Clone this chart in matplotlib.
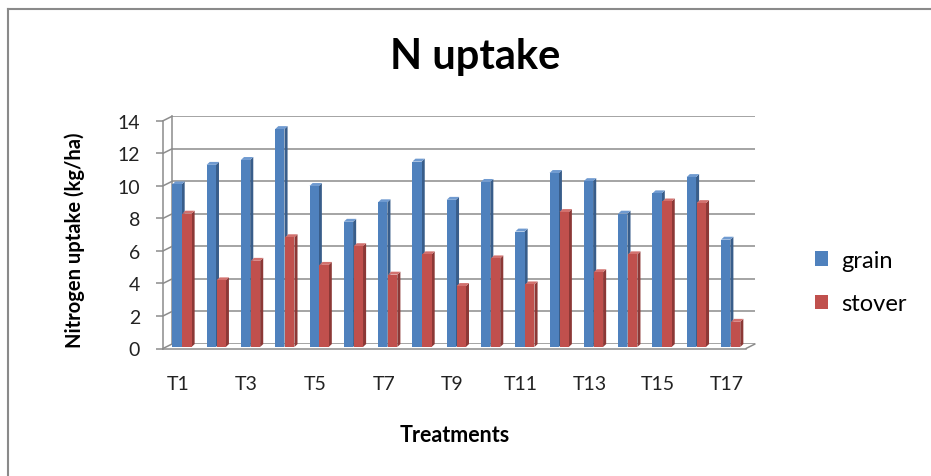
import numpy as np
import matplotlib
matplotlib.use("Agg")
import matplotlib.pyplot as plt
from matplotlib.lines import Line2D
from matplotlib.transforms import ScaledTranslation

plt.rcParams['font.family'] = ['Lato', 'DejaVu Sans']

# N uptake per treatment (kg/ha)
treatments = ['T%d' % i for i in range(1, 18)]
grain = [10.0, 11.2, 11.5, 13.4, 9.9, 7.7, 8.9, 11.4, 9.05, 10.15, 7.1, 10.7, 10.2, 8.2, 9.45, 10.45, 6.6]
stover = [8.2, 4.1, 5.3, 6.75, 5.05, 6.2, 4.45, 5.7, 3.75, 5.45, 3.85, 8.3, 4.6, 5.7, 8.95, 8.85, 1.55]
yticks = [0, 2, 4, 6, 8, 10, 12, 14]

c_grain, c_grain_side, c_grain_top = '#4F81BD', '#385D8A', '#6F9AD0'
c_stov, c_stov_side, c_stov_top = '#C0504D', '#8C3836', '#D2716E'
grid_c = '#8C8C8C'

W, H = 931, 477
fig = plt.figure(figsize=(W / 100, H / 100), dpi=100)
fig.patch.set_facecolor('white')

# back wall of the pseudo-3D chart
ax = fig.add_axes([172 / W, 1 - 345 / H, 583 / W, (345 - 117.3) / H])
ax.set_xlim(-0.29, 16.71)
ax.set_ylim(0, 14)
for s in ['top', 'right', 'bottom']:
    ax.spines[s].set_visible(False)
ax.spines['left'].set_color(grid_c)
ax.spines['left'].set_linewidth(1.1)
ax.set_yticks(yticks)
ax.yaxis.grid(True, color=grid_c, linewidth=1.1)
ax.set_axisbelow(True)

def px(dx, dy):
    return ScaledTranslation(dx / 100, dy / 100, fig.dpi_scale_trans)

DX, DY = -9, -4.5
front = ax.transData + px(DX, DY)
bar_tr = ax.transData + px(0, -3)

def depth_line(xv, yv):
    # connector from the front plane back to the wall
    ax.annotate('', xy=(xv, yv), xycoords='data', xytext=(DX, DY),
                textcoords='offset pixels',
                arrowprops=dict(arrowstyle='-', color=grid_c, lw=1.1,
                                shrinkA=0, shrinkB=0))

# floor front edge and front axis
x0, x1 = ax.get_xlim()
ax.plot([x0, x0], [0, 14], color=grid_c, lw=1.1, transform=front, clip_on=False)
ax.plot([x0, x1], [0, 0], color=grid_c, lw=1.1, transform=front, clip_on=False)
depth_line(x1, 0)
for t in yticks:
    depth_line(x0, t)
    ax.plot([x0], [t], transform=front, marker=[(0, 0), (-1, 0)],
            markersize=10, color=grid_c, mew=1.1, clip_on=False)

# columns with a shaded side and top face
bw, dx, dy = 0.27, 0.09, 0.18
x = np.arange(len(treatments))
for i in x:
    for left, v, cf, cs, ct in [(i - 0.28, grain[i], c_grain, c_grain_side, c_grain_top),
                                (i + 0.01, stover[i], c_stov, c_stov_side, c_stov_top)]:
        r = left + bw
        ax.fill([r, r + dx, r + dx, r], [0, dy, v + dy, v], color=cs,
                transform=bar_tr, clip_on=False, zorder=3, lw=0)
        ax.fill([left, left + dx, r + dx, r], [v, v + dy, v + dy, v], color=ct,
                transform=bar_tr, clip_on=False, zorder=3, lw=0)
        ax.fill([left, r, r, left], [0, 0, v, v], color=cf,
                transform=bar_tr, clip_on=False, zorder=3, lw=0)

hg = ax.bar([0], [0], color=c_grain, label='grain')
hs = ax.bar([0], [0], color=c_stov, label='stover')

# tick labels
ax.set_xticks(x[::2])
ax.set_xticklabels(treatments[::2], fontsize=14, color='#222222')
ax.tick_params(axis='x', length=0, pad=22)
for lab in ax.get_xticklabels():
    lab.set_transform(lab.get_transform() + px(-4, 0))
ax.set_yticklabels([str(t) for t in yticks], fontsize=14, color='#222222')
ax.tick_params(axis='y', length=0, pad=23)
for lab in ax.get_yticklabels():
    lab.set_transform(lab.get_transform() + px(0, -4.5))

fig.text(475 / W, 1 - 57 / H, 'N uptake', ha='center', va='center',
         fontsize=30, fontweight='bold', color='black')
fig.text(75 / W, 1 - 240 / H, 'Nitrogen uptake (kg/ha)', ha='center', va='center',
         rotation=90, fontsize=14.5, fontweight='bold', color='black')
fig.text(455 / W, 1 - 436 / H, 'Treatments', ha='center', va='center',
         fontsize=15.5, fontweight='bold', color='black')

fig.legend(handles=[hg, hs], loc='center left', bbox_to_anchor=(794 / W, 1 - 283 / H),
           frameon=False, fontsize=17, handlelength=0.55, handleheight=0.55,
           handletextpad=0.55, labelspacing=0.95)

# outer frame (top and left edges)
fig.add_artist(Line2D([8 / W, 1], [1 - 10 / H, 1 - 10 / H], color='#8A8A8A', lw=1.5))
fig.add_artist(Line2D([8 / W, 8 / W], [0, 1 - 10 / H], color='#8A8A8A', lw=1.5))

fig.savefig('out.png', dpi=100, facecolor='white')
